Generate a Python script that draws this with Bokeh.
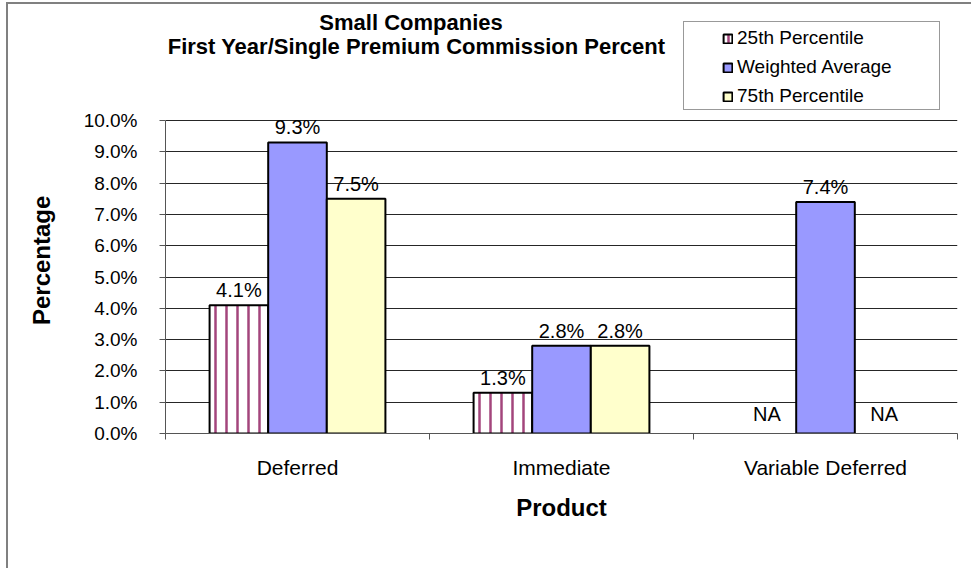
from bokeh.plotting import figure
from bokeh.models import (ColumnDataSource, Range1d, FixedTicker, PrintfTickFormatter,
                          LabelSet, Label, Legend, LegendItem)
from bokeh.core.properties import value
from bokeh.embed import file_html
from bokeh.resources import INLINE

# ---- data ----
categories = ["Deferred", "Immediate", "Variable Deferred"]
series_names = ["25th Percentile", "Weighted Average", "75th Percentile"]
p25 = [4.1, 1.3, None]
wavg = [9.3, 2.8, 7.4]
p75 = [7.5, 2.8, None]
y_ticks = [0, 1, 2, 3, 4, 5, 6, 7, 8, 9, 10]
title_lines = ["Small Companies", "First Year/Single Premium Commission Percent"]
y_axis_title = "Percentage"
x_axis_title = "Product"

FONT = "Liberation Sans"
bar_w = 0.222
offsets = [-bar_w, 0.0, bar_w]
Y_MAX = 10            # top of the value axis
Y_VIEW = 13.834       # extra room above the axis for title + legend

p = figure(width=971, height=568, x_range=Range1d(0, len(categories)), y_range=Range1d(0, Y_VIEW),
           output_backend="svg", toolbar_location=None,
           min_border_left=165, min_border_right=14, min_border_top=0, min_border_bottom=135)
p.outline_line_color = None
p.background_fill_alpha = 0
p.border_fill_alpha = 0
# chart-area border on the left and top edges (gray band, then white cover)
p.styles = {"box-shadow": "inset 6px 2px 0 0 #ffffff, inset 8px 4px 0 0 #808080",
            "border": "0", "outline": "none"}

styles = [
    dict(fill_color="white", hatch_pattern="vertical_line", hatch_color="#a3457c",
         hatch_scale=11, hatch_weight=2.5),
    dict(fill_color="#9999FF"),
    dict(fill_color="#FFFFCC"),
]

renderers = []
val_x, val_y, val_t = [], [], []
na_x, na_y, na_t = [], [], []
for vals, off, st in zip([p25, wavg, p75], offsets, styles):
    xs = [i + 0.5 + off for i in range(len(categories))]
    tops = [v if v is not None else float("nan") for v in vals]
    src = ColumnDataSource(dict(x=xs, top=tops))
    r = p.vbar(x="x", top="top", bottom=0, width=bar_w, source=src,
               line_color="black", line_width=2, **st)
    renderers.append(r)
    for x, v in zip(xs, vals):
        if v is None:
            na_x.append(x); na_y.append(0); na_t.append("NA")
        else:
            val_x.append(x); val_y.append(v); val_t.append(f"{v:.1f}%")

p.add_layout(LabelSet(x="x", y="y", text="t", source=ColumnDataSource(dict(x=val_x, y=val_y, t=val_t)),
                      text_align="center", text_baseline="bottom", y_offset=4,
                      text_font=value(FONT), text_font_size="20px", text_color="black"))
p.add_layout(LabelSet(x="x", y="y", text="t", source=ColumnDataSource(dict(x=na_x, y=na_y, t=na_t)),
                      text_align="center", text_baseline="bottom", y_offset=9,
                      text_font=value(FONT), text_font_size="20px", text_color="black"))

# ---- axes ----
p.yaxis.bounds = (0, Y_MAX)
p.yaxis.ticker = FixedTicker(ticks=y_ticks)
p.yaxis.formatter = PrintfTickFormatter(format="%.1f%%")
p.yaxis.major_tick_out = 6
p.yaxis.major_tick_in = 0
p.yaxis.minor_tick_line_color = None
p.yaxis.axis_line_color = "#555555"
p.yaxis.major_tick_line_color = "#555555"
p.yaxis.major_label_standoff = 22
p.yaxis.major_label_text_font = FONT
p.yaxis.major_label_text_font_size = "19px"
p.yaxis.major_label_text_color = "black"
# trailing no-break spaces push the rotated title down to the middle of the value axis
p.yaxis.axis_label = y_axis_title + "\u00a0" * 13
p.yaxis.axis_label_text_font = FONT
p.yaxis.axis_label_text_font_size = "24px"
p.yaxis.axis_label_text_font_style = "bold"
p.yaxis.axis_label_text_color = "black"
p.yaxis.axis_label_standoff = 26

p.xaxis.ticker = FixedTicker(ticks=[i + 0.5 for i in range(len(categories))],
                             minor_ticks=list(range(len(categories) + 1)))
p.xaxis.major_label_overrides = {i + 0.5: c for i, c in enumerate(categories)}
p.xaxis.major_tick_line_color = None
p.xaxis.major_tick_out = 6
p.xaxis.major_tick_in = 0
p.xaxis.minor_tick_out = 6
p.xaxis.minor_tick_in = 0
p.xaxis.minor_tick_line_color = "#555555"
p.xaxis.axis_line_color = "#555555"
p.xaxis.major_label_standoff = 16
p.xaxis.major_label_text_font = FONT
p.xaxis.major_label_text_font_size = "21px"
p.xaxis.major_label_text_color = "black"
p.xaxis.axis_label = x_axis_title
p.xaxis.axis_label_text_font = FONT
p.xaxis.axis_label_text_font_size = "24px"
p.xaxis.axis_label_text_font_style = "bold"
p.xaxis.axis_label_text_color = "black"
p.xaxis.axis_label_standoff = 12

p.xgrid.grid_line_color = None
p.ygrid.grid_line_color = "#262626"
p.ygrid.grid_line_width = 1

# ---- titles (inside the extended frame, above the value axis) ----
for txt, xx, yy in zip(title_lines, [0.93, 0.951], [13.13, 12.36]):
    p.add_layout(Label(x=xx, y=yy, text=txt, text_align="center", text_baseline="middle",
                       text_font=FONT, text_font_size="22px", text_font_style="bold",
                       text_color="black"))

# ---- legend: box, then content ----
dummy = p.scatter(x=[], y=[], size=0, fill_alpha=0, line_alpha=0)
box = Legend(items=[LegendItem(label=" ", renderers=[dummy])],
             location=(518, 323), padding=0, margin=0, glyph_width=1, glyph_height=1,
             label_standoff=0, label_width=254, label_height=87,
             border_line_color="#333333", border_line_width=1,
             background_fill_color="white", background_fill_alpha=1)
p.add_layout(box, "center")
legend = Legend(items=[LegendItem(label=s, renderers=[r]) for s, r in zip(series_names, renderers)],
                location=(557, 326), padding=0, margin=0, spacing=7,
                glyph_width=11, glyph_height=11, label_height=20, label_standoff=4,
                border_line_color=None, background_fill_alpha=0,
                label_text_font=FONT, label_text_font_size="19px", label_text_color="black")
p.add_layout(legend, "center")

open("out.html", "w").write(file_html(p, INLINE))
